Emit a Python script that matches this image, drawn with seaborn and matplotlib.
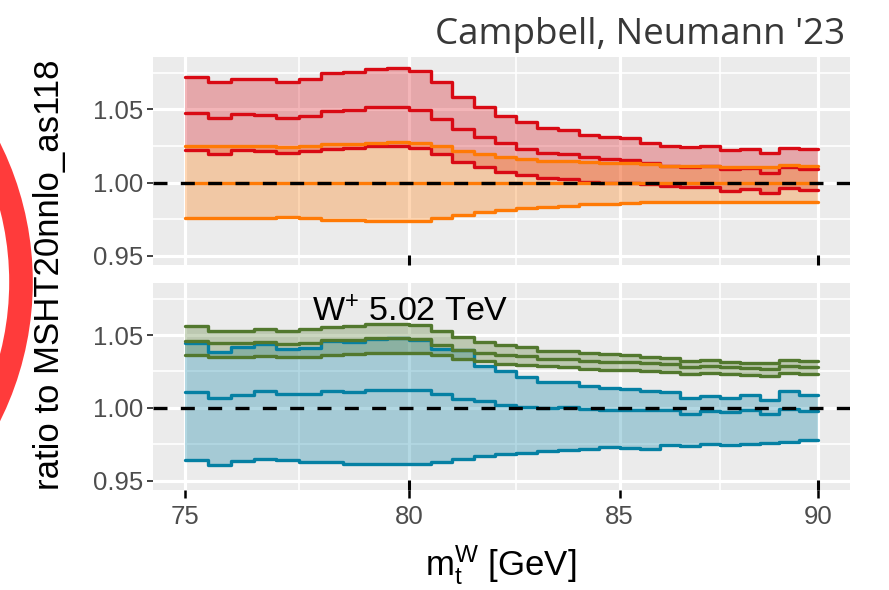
import numpy as np
import pandas as pd
import matplotlib
matplotlib.use("Agg")
import matplotlib.pyplot as plt
from matplotlib.patches import Circle
from matplotlib.ticker import FixedLocator, NullFormatter
import seaborn as sns

# ---------------- data ----------------
# lower edges of the 0.5 GeV bins, plus the final edge
mass = [75.0, 75.5, 76.0, 76.5, 77.0, 77.5, 78.0, 78.5, 79.0, 79.5,
        80.0, 80.5, 81.0, 81.5, 82.0, 82.5, 83.0, 83.5, 84.0, 84.5,
        85.0, 85.5, 86.0, 86.5, 87.0, 87.5, 88.0, 88.5, 89.0, 89.5]
mass_end = 90.0

# top panel
red_hi = [1.0723, 1.0685, 1.0710, 1.0708, 1.0689, 1.0707, 1.0746, 1.0753, 1.0776, 1.0785,
          1.0762, 1.0685, 1.0587, 1.0514, 1.0457, 1.0416, 1.0371, 1.0359, 1.0325, 1.0310,
          1.0303, 1.0273, 1.0250, 1.0243, 1.0248, 1.0225, 1.0232, 1.0200, 1.0237, 1.0228]
red_mid = [1.0473, 1.0439, 1.0466, 1.0460, 1.0443, 1.0455, 1.0491, 1.0496, 1.0514, 1.0518,
           1.0496, 1.0434, 1.0366, 1.0310, 1.0269, 1.0230, 1.0205, 1.0196, 1.0177, 1.0162,
           1.0155, 1.0132, 1.0116, 1.0109, 1.0112, 1.0091, 1.0098, 1.0068, 1.0105, 1.0093]
red_lo = [1.0223, 1.0196, 1.0223, 1.0216, 1.0205, 1.0216, 1.0232, 1.0235, 1.0246, 1.0248,
          1.0235, 1.0196, 1.0143, 1.0105, 1.0075, 1.0052, 1.0030, 1.0023, 1.0007, 1.0000,
          1.0000, 0.9991, 0.9973, 0.9968, 0.9968, 0.9945, 0.9954, 0.9928, 0.9966, 0.9950]
orange_hi = [1.0252, 1.0246, 1.0246, 1.0250, 1.0241, 1.0250, 1.0262, 1.0262, 1.0273, 1.0275,
             1.0268, 1.0246, 1.0218, 1.0196, 1.0177, 1.0160, 1.0150, 1.0148, 1.0139, 1.0136,
             1.0132, 1.0125, 1.0116, 1.0114, 1.0114, 1.0109, 1.0109, 1.0105, 1.0121, 1.0116]
orange_mid = [1.0000, 1.0000, 1.0000, 1.0000, 1.0000, 1.0000, 1.0000, 1.0000, 1.0000, 1.0000,
              1.0000, 1.0000, 1.0000, 1.0000, 1.0000, 1.0000, 1.0000, 1.0000, 1.0000, 1.0000,
              1.0000, 1.0000, 1.0000, 1.0000, 1.0000, 1.0000, 1.0000, 1.0000, 1.0000, 1.0000]
orange_lo = [0.9757, 0.9757, 0.9760, 0.9757, 0.9764, 0.9757, 0.9746, 0.9746, 0.9734, 0.9734,
             0.9740, 0.9757, 0.9780, 0.9798, 0.9814, 0.9825, 0.9836, 0.9843, 0.9852, 0.9855,
             0.9860, 0.9864, 0.9866, 0.9866, 0.9866, 0.9864, 0.9868, 0.9866, 0.9866, 0.9870]

# bottom panel
green_hi = [1.0562, 1.0530, 1.0530, 1.0541, 1.0530, 1.0539, 1.0557, 1.0562, 1.0573, 1.0573,
            1.0566, 1.0525, 1.0484, 1.0452, 1.0429, 1.0415, 1.0392, 1.0390, 1.0374, 1.0369,
            1.0362, 1.0351, 1.0340, 1.0323, 1.0328, 1.0317, 1.0310, 1.0305, 1.0328, 1.0323]
green_mid = [1.0459, 1.0443, 1.0443, 1.0450, 1.0438, 1.0443, 1.0466, 1.0463, 1.0477, 1.0477,
             1.0475, 1.0433, 1.0399, 1.0376, 1.0360, 1.0353, 1.0337, 1.0333, 1.0320, 1.0318,
             1.0317, 1.0310, 1.0298, 1.0282, 1.0287, 1.0278, 1.0271, 1.0264, 1.0287, 1.0282]
green_lo = [1.0362, 1.0346, 1.0346, 1.0358, 1.0346, 1.0351, 1.0362, 1.0367, 1.0374, 1.0374,
            1.0374, 1.0365, 1.0337, 1.0319, 1.0300, 1.0296, 1.0285, 1.0283, 1.0268, 1.0262,
            1.0259, 1.0252, 1.0248, 1.0236, 1.0241, 1.0232, 1.0225, 1.0218, 1.0241, 1.0236]
blue_hi = [1.0447, 1.0385, 1.0415, 1.0438, 1.0404, 1.0413, 1.0461, 1.0450, 1.0472, 1.0482,
           1.0468, 1.0405, 1.0400, 1.0290, 1.0250, 1.0215, 1.0177, 1.0178, 1.0150, 1.0138,
           1.0128, 1.0117, 1.0110, 1.0071, 1.0085, 1.0071, 1.0087, 1.0053, 1.0117, 1.0092]
blue_mid = [1.0106, 1.0069, 1.0087, 1.0115, 1.0094, 1.0094, 1.0119, 1.0110, 1.0122, 1.0126,
            1.0122, 1.0094, 1.0064, 1.0046, 1.0023, 1.0007, 1.0002, 1.0007, 0.9991, 0.9989,
            0.9989, 0.9984, 0.9984, 0.9961, 0.9979, 0.9972, 0.9984, 0.9956, 0.9995, 0.9979]
blue_lo = [0.9640, 0.9606, 0.9635, 0.9651, 0.9640, 0.9628, 0.9628, 0.9612, 0.9617, 0.9617,
           0.9617, 0.9628, 0.9651, 0.9667, 0.9686, 0.9693, 0.9702, 0.9709, 0.9720, 0.9732,
           0.9727, 0.9720, 0.9743, 0.9736, 0.9750, 0.9748, 0.9755, 0.9759, 0.9766, 0.9778]

x_major = [75, 80, 85, 90]
x_minor = [77.5, 82.5, 87.5]
y_major = [0.95, 1.00, 1.05]
y_minor = [0.975, 1.025, 1.075]
y_labels = ["0.95", "1.00", "1.05"]

title_txt = "Campbell, Neumann '23"
panel_txt = r"W$^{+}$ 5.02 TeV"
ylabel_txt = "ratio to MSHT20nnlo_as118"
xlabel_txt = r"m$_{\mathrm{t}}^{\mathrm{W}}$ [GeV]"

# ---------------- style ----------------
sns.set_theme(style="darkgrid")
plt.rcParams["font.family"] = ["Liberation Sans", "DejaVu Sans"]
plt.rcParams["mathtext.fontset"] = "custom"
plt.rcParams["mathtext.rm"] = "Liberation Sans"
plt.rcParams["mathtext.it"] = "Liberation Sans:italic"
plt.rcParams["mathtext.bf"] = "Liberation Sans:bold"

RED = "#D90A14"
ORANGE = "#FF7A05"
GREEN = "#52782E"
BLUE = "#0580A3"
BG = "#EBEBEB"


def build(values):
    df = pd.DataFrame({"mass": mass + [mass_end], "ratio": values + [values[-1]]})
    return df


fig = plt.figure(figsize=(8.89, 5.90), dpi=100)

# overlay in pixel units for the red highlight ring at the left edge
over = fig.add_axes([0, 0, 1, 1], zorder=-5)
over.set_xlim(0, 889)
over.set_ylim(590, 0)
over.axis("off")
over.add_patch(Circle((-279, 282), 300, fill=False, lw=17, edgecolor="#FF3B3B",
                      clip_on=False))

ax1 = fig.add_axes([153 / 889, 1 - 265 / 590, 697 / 889, 208 / 590])
ax2 = fig.add_axes([153 / 889, 1 - 490 / 590, 697 / 889, 207 / 590])

bands_top = [(RED, red_lo, red_mid, red_hi), (ORANGE, orange_lo, orange_mid, orange_hi)]
bands_bot = [(BLUE, blue_lo, blue_mid, blue_hi), (GREEN, green_lo, green_mid, green_hi)]

for ax, bands in ((ax1, bands_top), (ax2, bands_bot)):
    ax.set_facecolor(BG)
    ax.set_xscale("log")
    for col, lo, mid, hi in bands:
        dlo, dhi = build(lo), build(hi)
        ax.fill_between(dlo["mass"], dlo["ratio"], dhi["ratio"], step="post",
                        color=col, alpha=0.3, lw=0, zorder=2)
    for col, lo, mid, hi in bands:
        for series in (lo, mid, hi):
            sns.lineplot(data=build(series), x="mass", y="ratio", ax=ax,
                         drawstyle="steps-post", color=col, lw=2.4,
                         estimator=None, sort=False, zorder=3)
    ax.axhline(1.0, color="black", lw=2.4, ls=(0, (4.2, 4.0)), zorder=4)

    ax.set_xlim(75 * np.exp(-0.00912), 90 * np.exp(0.00912))
    ax.set_ylim(0.9437, 1.0857)
    ax.xaxis.set_major_locator(FixedLocator(x_major))
    ax.xaxis.set_minor_locator(FixedLocator(x_minor))
    ax.xaxis.set_minor_formatter(NullFormatter())
    ax.yaxis.set_major_locator(FixedLocator(y_major))
    ax.yaxis.set_minor_locator(FixedLocator(y_minor))
    ax.set_yticklabels(y_labels)
    ax.grid(which="major", color="white", lw=2.3)
    ax.grid(which="minor", color="white", lw=1.2)
    for s in ax.spines.values():
        s.set_visible(False)
    ax.tick_params(axis="y", which="major", length=4, width=1.3, color="#333333",
                   labelsize=18.5, labelcolor="#4D4D4D", pad=3, left=True)
    ax.tick_params(which="minor", length=0)
    ax.set_xlabel("")
    ax.set_ylabel("")
    # short dark marks at every other major x position, at the panel bottom
    ax.vlines(x_major[1::2], 0, 0.05, transform=ax.get_xaxis_transform(),
              color="black", lw=2.2, zorder=6, clip_on=False)

ax1.tick_params(axis="x", which="major", length=0, labelbottom=False)
ax2.tick_params(axis="x", which="major", length=6, width=1.8, color="black",
                labelsize=18.5, labelcolor="#4D4D4D", pad=5, bottom=True)
ax2.set_xticklabels([str(v) for v in x_major])

ax2.text(77.8, 1.0595, panel_txt, fontsize=24.5, color="black", ha="left", va="baseline")

fig.text(845 / 889, 1 - 44 / 590, title_txt, fontsize=26.5, color="#383838",
         ha="right", va="baseline", family=["Open Sans", "DejaVu Sans"])
fig.text(50 / 889, 1 - 275 / 590, ylabel_txt, rotation=90, fontsize=25,
         color="black", ha="center", va="center")
fig.text(501 / 889, 1 - 575 / 590, xlabel_txt, fontsize=25, color="black",
         ha="center", va="baseline")

fig.savefig("out.png", dpi=100)
